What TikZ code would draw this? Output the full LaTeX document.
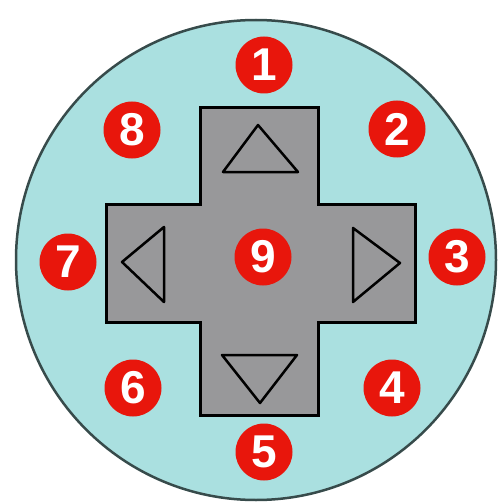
\documentclass[tikz,border=0pt]{standalone}
\usepackage{fontspec}
\setsansfont{Liberation Sans}
\usepackage{xcolor}
\usetikzlibrary{arrows.meta,positioning,calc}
\definecolor{padbg}{RGB}{170,224,224}
\definecolor{padrim}{RGB}{55,75,75}
\definecolor{padgray}{RGB}{152,152,154}
\definecolor{badgered}{RGB}{232,22,12}

\begin{document}
\begin{tikzpicture}[x=1pt,y=-1pt,
    badge/.style={circle,fill=badgered,text=white,minimum size=57pt,inner sep=0pt,
      font=\sffamily\bfseries\fontsize{46}{46}\selectfont},
    arrowtri/.style={line width=2.5pt,line join=round}]
        \useasboundingbox (0,0) rectangle (504,503);
        \fill[white] (0,0) rectangle (504,503);
        % round base of the pad
        \draw[line width=2.5pt,draw=padrim,fill=padbg] (256,260) circle (240pt);
        % cross
        \draw[line width=3pt,fill=padgray] (200,108) -- (318,108) -- (318,204)
          -- (415,204) -- (415,322) -- (318,322) -- (318,415) -- (200,415)
          -- (200,322) -- (106,322) -- (106,204) -- (200,204) -- cycle;
        % direction marks
        \draw[arrowtri] (258,125) -- (298,172) -- (223,172) -- cycle;
        \draw[arrowtri] (260,403) -- (297,355) -- (222,355) -- cycle;
        \draw[arrowtri] (122,262) -- (164,227) -- (164,302) -- cycle;
        \draw[arrowtri] (400,263) -- (353,228) -- (353,302) -- cycle;
        % numbered positions
        \foreach \n/\x/\y in {1/264/65, 2/397/129, 3/457/257, 4/392/388,
            5/264/452, 6/133/388, 7/68/262, 8/132/130, 9/263/257}
          \node[badge] (n\n) at (\x,\y) {\n};
      \end{tikzpicture}
\end{document}
